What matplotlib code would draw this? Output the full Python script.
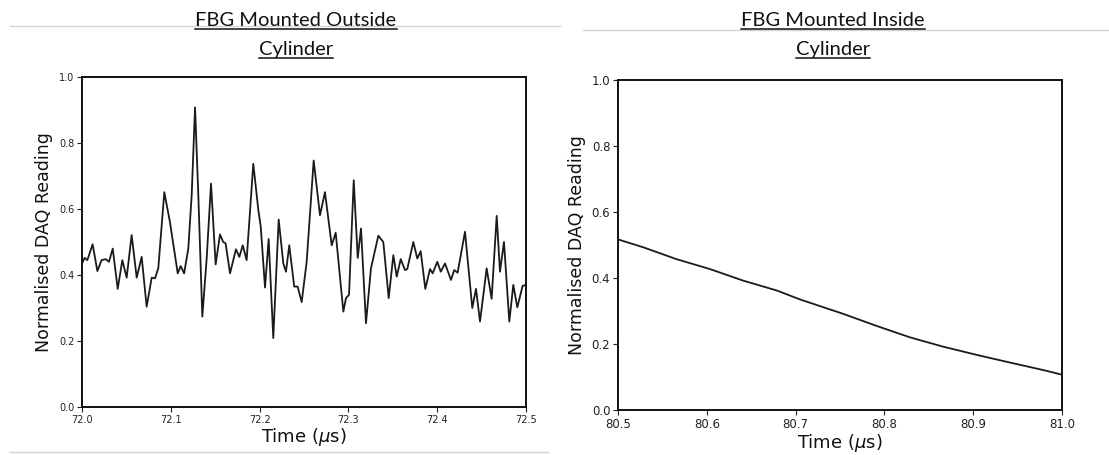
import matplotlib
matplotlib.use("Agg")
import matplotlib.pyplot as plt
from matplotlib.lines import Line2D

# ---- outside-mounted grating: time (us) vs normalised reading ----
t_out = [
    72.000, 72.003, 72.006, 72.012, 72.0173, 72.022, 72.0267, 72.0304, 72.0346,
    72.0402, 72.0454, 72.0503, 72.0559, 72.0616, 72.0672, 72.0728, 72.0785,
    72.0822, 72.0859, 72.0927, 72.099, 72.1078, 72.1111, 72.115, 72.1197,
    72.1235, 72.1273, 72.131, 72.1355, 72.1404, 72.1453, 72.1505, 72.1554,
    72.159, 72.1617, 72.1667, 72.1734, 72.1772, 72.181, 72.1854, 72.1929,
    72.1986, 72.2013, 72.2061, 72.2102, 72.2154, 72.2215, 72.2267, 72.2297,
    72.2334, 72.239, 72.2428, 72.2474, 72.253, 72.2609, 72.268, 72.2736,
    72.2812, 72.2857, 72.2943, 72.2973, 72.3007, 72.306, 72.3105, 72.3142,
    72.3198, 72.3254, 72.3337, 72.3393, 72.3454, 72.3506, 72.3544, 72.3589,
    72.3637, 72.3663, 72.3731, 72.3776, 72.3814, 72.3866, 72.3919, 72.3949,
    72.4001, 72.404, 72.4088, 72.4155, 72.4192, 72.423, 72.4313, 72.4395,
    72.4437, 72.4482, 72.4557, 72.4613, 72.467, 72.4707, 72.4752, 72.4812,
    72.4857, 72.4902, 72.4962, 72.500,
]
r_out = [
    0.435, 0.452, 0.445, 0.493, 0.412, 0.445, 0.448, 0.440, 0.480,
    0.358, 0.445, 0.392, 0.521, 0.392, 0.455, 0.304, 0.392,
    0.390, 0.420, 0.651, 0.561, 0.405, 0.427, 0.405, 0.480,
    0.641, 0.908, 0.641, 0.274, 0.450, 0.677, 0.432, 0.523,
    0.500, 0.496, 0.405, 0.478, 0.455, 0.490, 0.445, 0.737,
    0.596, 0.546, 0.362, 0.509, 0.209, 0.568, 0.435, 0.410,
    0.490, 0.365, 0.365, 0.318, 0.440, 0.747, 0.581, 0.651,
    0.490, 0.528, 0.289, 0.330, 0.340, 0.687, 0.452, 0.541,
    0.254, 0.420, 0.519, 0.500, 0.330, 0.460, 0.395, 0.448,
    0.415, 0.418, 0.500, 0.450, 0.472, 0.358, 0.418, 0.405,
    0.440, 0.410, 0.435, 0.385, 0.415, 0.407, 0.531, 0.300,
    0.358, 0.259, 0.420, 0.328, 0.579, 0.410, 0.500, 0.259,
    0.370, 0.302, 0.367, 0.370,
]

# ---- inside-mounted grating ----
t_in = [80.500, 80.5285, 80.566, 80.6036, 80.641, 80.679, 80.705, 80.754,
        80.791, 80.829, 80.866, 80.904, 80.941, 80.979, 81.000]
r_in = [0.517, 0.493, 0.457, 0.427, 0.392, 0.362, 0.335, 0.291,
        0.255, 0.220, 0.192, 0.167, 0.144, 0.121, 0.107]

titles = [("FBG Mounted Outside", "Cylinder"), ("FBG Mounted Inside", "Cylinder")]

W, H = 1109, 455
fig = plt.figure(figsize=(W / 100, H / 100), dpi=100)

ax1 = fig.add_axes([82 / W, 1 - 407 / H, 444 / W, 330 / H])
ax2 = fig.add_axes([618 / W, 1 - 410 / H, 444 / W, 330 / H])

panels = [
    (ax1, t_out, r_out, (72.0, 72.5), [72.0, 72.1, 72.2, 72.3, 72.4, 72.5], 7),
    (ax2, t_in, r_in, (80.5, 81.0), [80.5, 80.6, 80.7, 80.8, 80.9, 81.0], 8.5),
]

for ax, t, r, xlim, xt, tsize in panels:
    ax.plot(t, r, color="#1a1a1a", linewidth=1.3,
            solid_joinstyle="round", solid_capstyle="round")
    ax.set_xlim(*xlim)
    ax.set_ylim(0, 1)
    ax.set_xticks(xt)
    ax.set_xticklabels([f"{v:.1f}" for v in xt])
    ax.set_yticks([0.0, 0.2, 0.4, 0.6, 0.8, 1.0])
    ax.tick_params(labelsize=tsize, length=3.5, width=0.8, pad=2, colors="#222222")
    ax.set_xlabel(r"Time ($\mu$s)", fontsize=13, labelpad=1, color="#111111")
    ax.set_ylabel("Normalised DAQ Reading", fontsize=12.5, labelpad=4, color="#111111")
    for s in ax.spines.values():
        s.set_linewidth(1.4)
        s.set_color("#111111")

# faint slide rules behind the headings
grey = "#d4d4d4"
fig.add_artist(Line2D([10 / W, 560 / W], [1 - 26 / H] * 2, color=grey, lw=1))
fig.add_artist(Line2D([583 / W, 1.0], [1 - 30 / H] * 2, color=grey, lw=1))
fig.add_artist(Line2D([10 / W, 548 / W], [1 - 452 / H] * 2, color=grey, lw=1))

# underlined two-line headings
heads = []
for cx, (l1, l2) in zip([296, 833], titles):
    heads.append(fig.text(cx / W, 1 - 21 / H, l1, ha="center", va="center",
                          fontsize=14.5, family="Lato", color="#111111"))
    heads.append(fig.text(cx / W, 1 - 50 / H, l2, ha="center", va="center",
                          fontsize=14.5, family="Lato", color="#111111"))

fig.canvas.draw()
renderer = fig.canvas.get_renderer()
for txt in heads:
    bb = txt.get_window_extent(renderer)
    y = bb.y0 + 1
    fig.add_artist(Line2D([bb.x0 / W, bb.x1 / W], [y / H, y / H],
                          color="#111111", lw=1.1))

fig.savefig("out.png", dpi=100)
